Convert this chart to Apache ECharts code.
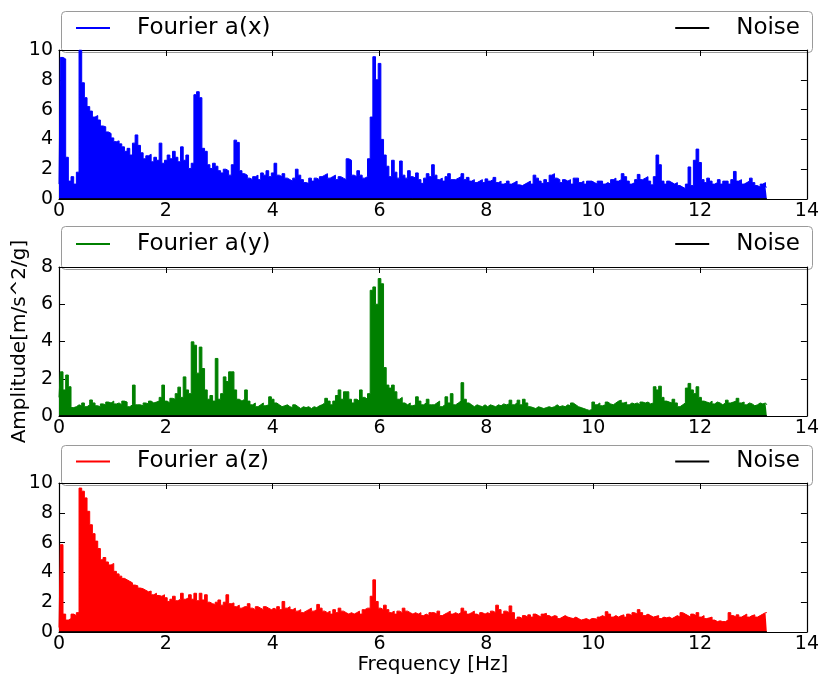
<!DOCTYPE html>
<html><head><meta charset="utf-8">
<script src="https://cdn.jsdelivr.net/npm/echarts/dist/echarts.min.js"></script>
<style>html,body{margin:0;padding:0;background:#fff}#c{width:822px;height:684px}</style>
</head><body><div id="c"></div>
<script>
// Frequency sampling step of the spectra (Hz)
const freqStep = 0.05;
const xTicks = [0, 2, 4, 6, 8, 10, 12, 14];
const yMaxes = [10, 8, 10];
const seriesNames = ['Fourier a(x)', 'Fourier a(y)', 'Fourier a(z)'];
const noiseName = 'Noise';
const xAxisName = 'Frequency [Hz]';
const yAxisName = 'Amplitude[m/s^2/g]';

const ampX = [
 1.0, 9.5, 9.4, 2.8, 1.2, 1.5, 1.0, 1.8, 10.0, 7.8,
 6.8, 6.2, 5.9, 5.5, 5.6, 5.3, 4.9, 4.85, 4.5, 4.4,
 4.1, 3.85, 3.9, 3.7, 3.5, 3.2, 3.4, 2.95, 3.75, 4.3,
 3.6, 3.1, 2.7, 2.9, 3.0, 2.5, 2.8, 2.6, 3.75, 2.4,
 2.6, 2.95, 2.7, 3.2, 2.8, 2.5, 3.5, 2.6, 2.95, 2.05,
 2.4, 7.0, 7.2, 6.8, 3.4, 3.2, 2.3, 2.05, 2.4, 2.2,
 1.9, 1.75, 2.0, 1.9, 1.6, 2.3, 3.95, 3.8, 1.9, 1.7,
 1.6, 1.4, 1.3, 1.5, 1.6, 1.3, 1.75, 1.6, 1.9, 1.5,
 1.75, 2.4, 1.6, 1.5, 1.7, 1.4, 1.3, 1.2, 1.4, 2.0,
 1.6, 1.3, 1.1, 1.05, 1.4, 1.2, 1.4, 1.3, 1.5, 1.6,
 1.7, 1.4, 1.5, 1.6, 1.3, 1.5, 1.4, 1.3, 2.7, 2.6,
 1.6, 1.5, 1.9, 1.6, 1.4, 1.5, 2.7, 5.5, 9.55, 8.0,
 9.1, 4.0, 2.95, 2.2, 1.5, 2.6, 1.8, 1.4, 2.55, 1.6,
 1.4, 1.9, 1.5, 1.4, 1.75, 1.3, 1.05, 1.4, 1.7, 1.5,
 2.3, 1.6, 1.3, 1.4, 1.2, 1.5, 1.7, 1.3, 1.3, 1.4,
 1.5, 1.7, 1.3, 1.45, 1.2, 1.3, 1.1, 1.2, 1.3, 1.1,
 1.35, 1.2, 1.3, 1.45, 1.1, 1.2, 1.0, 1.05, 1.2, 1.0,
 1.1, 1.2, 0.95, 0.9, 1.0, 1.1, 1.2, 1.0, 1.6, 1.4,
 1.2, 1.05, 1.3, 1.1, 1.6, 1.7, 1.4, 1.3, 1.1, 1.3,
 1.2, 1.3, 1.0, 1.4, 1.4, 1.1, 1.2, 1.0, 1.2, 1.2,
 1.1, 1.0, 1.2, 1.2, 1.0, 1.1, 1.0, 1.3, 1.4, 1.2,
 1.3, 1.7, 1.5, 1.2, 1.0, 1.1, 1.3, 1.65, 1.3, 1.4,
 1.5, 1.2, 0.95, 1.5, 2.95, 2.3, 1.2, 1.0, 1.2, 1.1,
 1.0, 1.1, 0.9, 0.8, 0.7, 1.0, 2.15, 0.9, 2.6, 3.35,
 2.45, 1.3, 1.1, 1.4, 1.2, 1.0, 1.1, 1.3, 1.0, 1.2,
 1.2, 1.0, 1.3, 1.85, 1.2, 1.3, 1.0, 1.1, 1.2, 1.4,
 1.1, 0.9, 0.8, 1.0, 1.1, 0.8
];

const ampY = [
 1.0, 2.37, 1.4, 2.2, 1.57, 0.45, 0.5, 0.6, 0.55, 0.7,
 0.5, 0.6, 0.86, 0.7, 0.55, 0.5, 0.65, 0.6, 0.75, 0.7,
 0.8, 0.65, 0.7, 0.6, 0.8, 0.75, 0.5, 0.6, 1.66, 0.6,
 0.6, 0.55, 0.7, 0.65, 0.8, 0.7, 0.75, 0.8, 1.0, 1.66,
 0.8, 0.7, 0.95, 0.9, 1.2, 1.55, 1.0, 2.1, 1.4, 1.2,
 3.98, 3.8, 2.3, 3.7, 2.55, 1.4, 0.9, 1.1, 0.8, 3.09,
 0.9, 1.2, 2.1, 1.85, 2.37, 2.37, 1.4, 0.9, 0.8, 0.9,
 1.4, 0.8, 0.6, 0.7, 0.5, 0.6, 0.7, 0.55, 0.6, 1.03,
 0.9, 0.7, 0.6, 0.5, 0.55, 0.6, 0.5, 0.45, 0.6, 0.5,
 0.4, 0.5, 0.45, 0.5, 0.4, 0.5, 0.45, 0.55, 0.6, 0.7,
 0.95, 0.8, 0.6, 0.8, 1.1, 1.4, 0.9, 1.3, 1.3, 0.9,
 0.7, 0.9, 0.8, 1.4, 1.0, 0.9, 1.2, 6.75, 6.93, 6.0,
 7.38, 7.1, 2.6, 1.66, 1.5, 1.66, 1.3, 0.9, 1.0, 0.7,
 0.6, 0.7, 0.55, 0.6, 1.03, 0.8, 0.6, 0.7, 0.9, 0.6,
 0.6, 0.7, 0.8, 0.5, 0.6, 1.03, 0.7, 1.2, 0.6, 0.7,
 0.8, 1.79, 0.9, 0.7, 0.6, 0.5, 0.6, 0.55, 0.5, 0.6,
 0.5, 0.6, 0.55, 0.5, 0.6, 0.55, 0.65, 0.6, 0.65, 0.85,
 0.6, 0.7, 0.85, 0.6, 0.9, 0.7, 0.5, 0.45, 0.4, 0.5,
 0.45, 0.4, 0.45, 0.5, 0.45, 0.5, 0.6, 0.5, 0.55, 0.5,
 0.6, 0.55, 0.7, 0.6, 0.5, 0.45, 0.4, 0.35, 0.3, 0.35,
 0.75, 0.6, 0.7, 0.55, 0.6, 0.75, 0.65, 0.6, 0.7, 0.8,
 0.85, 0.7, 0.75, 0.6, 0.7, 0.65, 0.7, 0.6, 0.75, 0.7,
 0.75, 0.65, 0.7, 1.57, 1.4, 1.6, 1.0, 0.8, 0.75, 0.7,
 0.9, 0.7, 0.5, 0.6, 0.7, 1.5, 1.75, 1.4, 1.2, 1.57,
 1.0, 0.8, 0.75, 0.7, 0.8, 0.65, 0.75, 0.7, 0.6, 0.7,
 0.85, 0.7, 0.75, 0.8, 0.95, 0.7, 0.75, 0.6, 0.7, 0.65,
 0.55, 0.6, 0.7, 0.65, 0.7, 0.6
];

const ampZ = [
 0.3, 5.86, 1.2, 0.8, 0.9, 1.2, 1.1, 1.3, 9.66, 9.45,
 9.0, 8.1, 7.2, 6.6, 6.1, 5.6, 4.85, 5.0, 4.7, 4.5,
 4.6, 4.07, 3.9, 3.75, 3.6, 3.5, 3.4, 3.3, 3.15, 3.1,
 2.95, 2.9, 2.8, 2.7, 2.75, 2.5, 2.6, 2.45, 2.4, 2.5,
 2.3, 2.05, 2.2, 2.4, 2.1, 2.2, 2.6, 2.2, 2.3, 2.5,
 2.2, 2.6, 2.1, 2.6, 2.15, 2.5, 2.0, 1.9, 1.85, 2.0,
 2.15, 1.8, 2.0, 2.5, 1.9, 1.95, 1.7, 1.8, 1.6, 1.7,
 1.7, 1.9, 1.6, 1.5, 1.7, 1.6, 1.5, 1.7, 1.6, 1.5,
 1.6, 1.5, 1.7, 1.5, 2.05, 1.6, 1.7, 1.5, 1.6, 1.4,
 1.5, 1.3, 1.4, 1.5, 1.6, 1.4, 1.5, 1.85, 1.6, 1.4,
 1.3, 1.4, 1.2, 1.5, 1.3, 1.6, 1.4, 1.3, 1.2, 1.3,
 1.2, 1.3, 1.4, 1.2, 1.5, 1.6, 1.6, 2.4, 3.5, 2.05,
 1.6, 1.5, 1.8, 1.5, 1.3, 1.4, 1.2, 1.4, 1.3, 1.6,
 1.4, 1.3, 1.2, 1.3, 1.2, 1.3, 1.1, 1.2, 1.1, 1.3,
 1.3, 1.2, 1.4, 1.1, 1.2, 1.3, 1.4, 1.2, 1.3, 1.2,
 1.3, 1.6, 1.4, 1.2, 1.3, 1.4, 1.2, 1.1, 1.3, 1.2,
 1.3, 1.2, 1.4, 1.3, 1.8, 1.5, 1.2, 1.4, 1.3, 1.75,
 1.3, 0.85, 1.0, 0.9, 1.1, 1.0, 1.15, 1.0, 1.2, 1.1,
 1.0, 1.2, 1.25, 1.1, 1.0, 1.1, 1.05, 0.9, 1.0, 1.1,
 1.0, 0.95, 0.9, 1.0, 0.9, 0.8, 0.85, 0.9, 0.8, 0.9,
 0.9, 0.85, 1.0, 1.1, 1.0, 1.36, 1.2, 1.0, 1.1, 1.0,
 1.1, 1.15, 1.0, 1.2, 1.1, 1.3, 1.2, 1.5, 1.3, 1.1,
 1.2, 1.1, 1.0, 1.05, 1.1, 0.9, 1.0, 0.95, 1.0, 0.9,
 1.0, 1.1, 1.0, 1.3, 1.2, 1.1, 1.0, 1.2, 1.1, 1.3,
 1.0, 1.1, 0.9, 0.95, 1.0, 0.8, 0.7, 0.75, 0.7, 0.7,
 0.8, 1.3, 1.1, 1.0, 1.15, 1.0, 1.1, 1.2, 1.0, 1.1,
 1.15, 1.0, 1.1, 1.2, 1.3, 1.3
];

const noiseFreq = [0, 13.25];
const noiseAmp = [0.02, 0.02];

const colors = ['#0000ff', '#008000', '#ff0000'];
const ampAll = [ampX, ampY, ampZ];

const FONT = 'DejaVu Sans';
const plotLeft = 59, plotWidth = 751;
const panels = [
  {boxTop: 9,   top: 50,  height: 149},
  {boxTop: 224, top: 267, height: 149},
  {boxTop: 443, top: 483, height: 149}
];

const chart = echarts.init(document.getElementById('c'), null, {renderer: 'canvas'});

const grid = [], xAxis = [], yAxis = [], series = [], legend = [], graphic = [];
panels.forEach((p, i) => {
  grid.push({left: plotLeft, top: p.top, width: plotWidth, height: p.height, containLabel: false});
  const tickStyle = {show: true, inside: true, length: 6, lineStyle: {color: '#000', width: 1}};
  const lineStyle = {show: true, onZero: false, lineStyle: {color: '#000', width: 1.2}};
  xAxis.push({
    gridIndex: i, type: 'value', min: xTicks[0], max: xTicks[xTicks.length - 1], interval: xTicks[1] - xTicks[0],
    position: 'bottom', axisLine: lineStyle, axisTick: tickStyle, splitLine: {show: false},
    axisLabel: {fontFamily: FONT, fontSize: 19, color: '#000', margin: 3, showMinLabel: true, showMaxLabel: true},
    name: i === 2 ? xAxisName : '', nameLocation: 'middle', nameGap: 20,
    nameTextStyle: {fontFamily: FONT, fontSize: 20, color: '#000'}
  });
  xAxis.push({
    gridIndex: i, type: 'value', min: xTicks[0], max: xTicks[xTicks.length - 1], interval: xTicks[1] - xTicks[0],
    position: 'top', axisLine: lineStyle, axisTick: tickStyle, splitLine: {show: false}, axisLabel: {show: false}
  });
  yAxis.push({
    gridIndex: i, type: 'value', min: 0, max: yMaxes[i], interval: 2, position: 'left',
    axisLine: lineStyle, axisTick: tickStyle, splitLine: {show: false},
    axisLabel: {fontFamily: FONT, fontSize: 19, color: '#000', margin: 6, showMinLabel: true, showMaxLabel: true},
    name: i === 1 ? yAxisName : '', nameLocation: 'middle', nameGap: 29, nameRotate: 90,
    nameTextStyle: {fontFamily: FONT, fontSize: 20, color: '#000'}
  });
  yAxis.push({
    gridIndex: i, type: 'value', min: 0, max: yMaxes[i], interval: 2, position: 'right',
    axisLine: lineStyle, axisTick: tickStyle, splitLine: {show: false}, axisLabel: {show: false}
  });
  series.push({
    name: seriesNames[i], type: 'line', xAxisIndex: 2 * i, yAxisIndex: 2 * i,
    data: ampAll[i].map((v, k) => [Math.round(k * freqStep * 100) / 100, v]),
    showSymbol: false, symbol: 'none', sampling: null, smooth: false, step: 'middle',
    lineStyle: {color: colors[i], width: 1}, itemStyle: {color: colors[i]},
    areaStyle: {color: colors[i], opacity: 1}, z: 2
  });
  series.push({
    name: noiseName, type: 'line', xAxisIndex: 2 * i, yAxisIndex: 2 * i,
    data: noiseFreq.map((f, k) => [f, noiseAmp[k]]),
    showSymbol: false, symbol: 'none', lineStyle: {color: '#000', width: 1}, itemStyle: {color: '#000'}, z: 3
  });
  const legBase = {
    icon: 'rect', itemWidth: 34, itemHeight: 2, padding: 0, selectedMode: false,
    textStyle: {fontFamily: FONT, fontSize: 23, color: '#000', padding: [0, 0, 0, 22]}
  };
  const cy = (p.boxTop + p.top) / 2;
  legend.push(Object.assign({}, legBase, {left: 76, top: cy - 13, data: [seriesNames[i]]}));
  legend.push(Object.assign({}, legBase, {right: 22, top: cy - 13, data: [noiseName]}));
  graphic.push({
    type: 'rect', left: plotLeft, top: p.boxTop, z: 0, silent: true,
    shape: {width: plotWidth, height: p.top - p.boxTop, r: 4},
    style: {fill: 'none', stroke: '#9a9a9a', lineWidth: 1}
  });
});

chart.setOption({
  animation: false,
  backgroundColor: '#fff',
  grid, xAxis, yAxis, series, legend, graphic
});
</script>
</body></html>
